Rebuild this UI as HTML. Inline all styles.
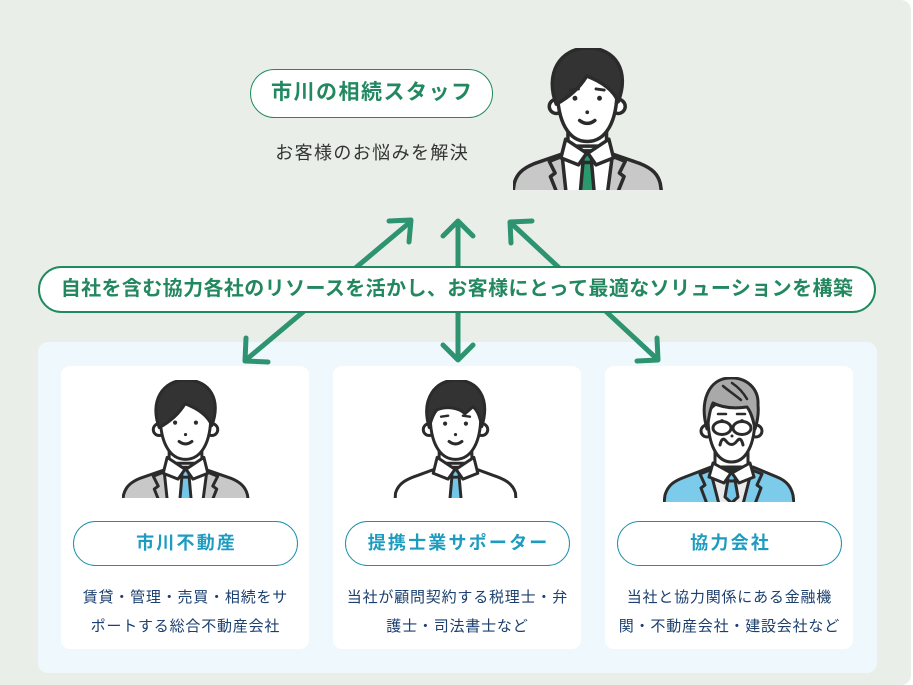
<!DOCTYPE html>
<html lang="ja">
<head>
<meta charset="utf-8">
<style>
  html, body { margin:0; padding:0; }
  body { width:913px; height:685px; position:relative; overflow:hidden; background:#ffffff;
         font-family:"Liberation Sans","Noto Sans CJK JP",sans-serif; }
  .abs { position:absolute; }
  .bg { left:0; top:0; width:911px; height:685px; background:#e9efe8; border-radius:0 10px 10px 0; }
  .wrap { left:38px; top:342px; width:839px; height:331px; background:#eff8fd; border-radius:10px; }
  .card { top:366px; width:248px; height:283px; background:#ffffff; border-radius:9px; }
  .pill { box-sizing:border-box; background:#fff; text-align:center; font-weight:700; white-space:nowrap; }
  .toppill { left:250px; top:69px; width:243px; height:49px; border:1.5px solid #1f8a5e; border-radius:25px;
             font-size:21px; line-height:46px; letter-spacing:1.5px; padding-left:1.5px; color:#22885f; }
  .sub { left:250px; top:140px; width:243px; line-height:26px; font-size:18px; letter-spacing:1.4px; padding-left:1.4px;
         color:#333333; text-align:center; white-space:nowrap; box-sizing:border-box; }
  .banner { left:38px; top:266px; width:838px; height:47px; border:2px solid #1f8a5e; border-radius:24px;
            font-size:20px; line-height:43px; letter-spacing:0.4px; color:#23875f; }
  .cpill { top:521px; width:225px; height:45px; border:1.5px solid #1e8fad; border-radius:23px;
           font-size:18px; line-height:42px; letter-spacing:2.2px; padding-left:2.2px; color:#1d9cc0; }
  .desc { top:583px; width:248px; text-align:center; font-size:15px; line-height:29px; letter-spacing:0.8px;
          padding-left:0.8px; box-sizing:border-box; color:#1b3f6e; white-space:nowrap; }
</style>
</head>
<body>
<div class="abs bg"></div>
<div class="abs wrap"></div>
<div class="abs card" style="left:61px;"></div>
<div class="abs card" style="left:333px;"></div>
<div class="abs card" style="left:605px;"></div>

<!-- arrows -->
<svg class="abs" style="left:0;top:0" width="913" height="685" viewBox="0 0 913 685">
  <g stroke="#2e9370" stroke-width="5" fill="none" stroke-linecap="round" stroke-linejoin="round">
    <line x1="247" y1="359" x2="409" y2="223"/>
    <polyline points="389,221 411,220 409,242"/>
    <polyline points="246,338 245,361 268,362"/>
    <line x1="458" y1="223" x2="458" y2="358"/>
    <polyline points="443,236 458,221 473,236"/>
    <polyline points="443,345 458,360 473,345"/>
    <line x1="512" y1="224" x2="656" y2="358"/>
    <polyline points="532,221 510,222 511,243"/>
    <polyline points="637,361 658,360 657,338"/>
  </g>
</svg>

<div class="abs pill toppill">市川の相続スタッフ</div>
<div class="abs sub">お客様のお悩みを解決</div>
<div class="abs pill banner">自社を含む協力各社のリソースを活かし、お客様にとって最適なソリューションを構築</div>

<!-- top person -->
<svg class="abs" style="left:513px;top:48px" width="152" height="142" viewBox="0 0 130 121.5">
  <g stroke="#2b2b2b" stroke-width="3" stroke-linejoin="round" stroke-linecap="round">
    <path d="M-1 130 L1 116 C3 108 8 103 18 99 L41 91 L86 91 L109 99 C119 103 124 108 126 116 L128 130 Z" fill="#c8c8c8"/>
    <path d="M42 92 L46 130 L80 130 L85 92 Z" fill="#ffffff"/>
    <path d="M60 96 L57 130 L70 130 L67 96 Z" fill="#2a9a6e"/>
    <path d="M41 93 L31 97 L36 107 L32 110 L40 130" fill="none"/>
    <path d="M86 93 L96 97 L91 107 L95 110 L87 130" fill="none"/>
    <path d="M47 62 L47 84 L80 84 L80 62 Z" fill="#ffffff"/>
    <path d="M59 88 L68 88 L67 98 L60 98 Z" fill="#2a9a6e"/>
    <path d="M45 78 L63 90 L56 100 L41 94 Z" fill="#ffffff"/>
    <path d="M82 78 L64 90 L71 100 L86 94 Z" fill="#ffffff"/>
    <circle cx="37" cy="50" r="6" fill="#ffffff"/>
    <circle cx="90" cy="50" r="6" fill="#ffffff"/>
    <path d="M38 36 C38 62 47 80 63.5 80 C80 80 89 62 89 36 C89 16 38 16 38 36 Z" fill="#ffffff"/>
    <path d="M37 48 C27 22 40 0 64 0 C88 0 100 20 90 46 C86 36 76 29 63 24 C57 34 48 42 37 48 Z" fill="#333333"/>
    <path d="M49 36 L56 35" fill="none" stroke-width="2.5"/>
    <path d="M71 35 L78 36" fill="none" stroke-width="2.5"/>
    <path d="M57 62 Q63.5 67 70 62" fill="none"/>
  </g>
  <g fill="#2b2b2b">
    <circle cx="53" cy="43" r="2.1"/><circle cx="74" cy="43" r="2.1"/><circle cx="63.5" cy="55" r="1.6"/>
  </g>
</svg>

<!-- card 1 person -->
<svg class="abs" style="left:122px;top:380px" width="130" height="118" viewBox="0 0 130 119">
  <g stroke="#2b2b2b" stroke-width="3" stroke-linejoin="round" stroke-linecap="round">
    <path d="M-1 130 L1 116 C3 108 8 103 18 99 L41 91 L86 91 L109 99 C119 103 124 108 126 116 L128 130 Z" fill="#c8c8c8"/>
    <path d="M42 92 L46 130 L80 130 L85 92 Z" fill="#ffffff"/>
    <path d="M60 96 L57 130 L70 130 L67 96 Z" fill="#74c6e8"/>
    <path d="M41 93 L31 97 L36 107 L32 110 L40 130" fill="none"/>
    <path d="M86 93 L96 97 L91 107 L95 110 L87 130" fill="none"/>
    <path d="M47 62 L47 84 L80 84 L80 62 Z" fill="#ffffff"/>
    <path d="M59 88 L68 88 L67 98 L60 98 Z" fill="#74c6e8"/>
    <path d="M45 78 L63 90 L56 100 L41 94 Z" fill="#ffffff"/>
    <path d="M82 78 L64 90 L71 100 L86 94 Z" fill="#ffffff"/>
    <circle cx="37" cy="50" r="6" fill="#ffffff"/>
    <circle cx="90" cy="50" r="6" fill="#ffffff"/>
    <path d="M38 36 C38 62 47 80 63.5 80 C80 80 89 62 89 36 C89 16 38 16 38 36 Z" fill="#ffffff"/>
    <path d="M37 48 C27 22 40 0 64 0 C88 0 100 20 90 46 C86 36 76 29 63 24 C57 34 48 42 37 48 Z" fill="#333333"/>
    <path d="M57 62 Q63.5 67 70 62" fill="none"/>
  </g>
  <g fill="#2b2b2b">
    <circle cx="53" cy="43" r="2.1"/><circle cx="74" cy="43" r="2.1"/><circle cx="63.5" cy="55" r="1.6"/>
  </g>
</svg>

<!-- card 2 person -->
<svg class="abs" style="left:392px;top:380px" width="130" height="118" viewBox="0 0 130 119">
  <g stroke="#2b2b2b" stroke-width="3" stroke-linejoin="round" stroke-linecap="round">
    <path d="M2 130 L3 114 C6 104 14 100 26 96 L45 89 L82 89 L101 96 C113 100 121 104 124 114 L125 130 Z" fill="#ffffff"/>
    <path d="M60 96 L57 130 L70 130 L67 96 Z" fill="#74c6e8"/>
    <path d="M47 62 L47 84 L80 84 L80 62 Z" fill="#ffffff"/>
    <path d="M59 88 L68 88 L67 98 L60 98 Z" fill="#74c6e8"/>
    <path d="M45 78 L63 90 L56 100 L41 94 Z" fill="#ffffff"/>
    <path d="M82 78 L64 90 L71 100 L86 94 Z" fill="#ffffff"/>
    <circle cx="37" cy="50" r="6" fill="#ffffff"/>
    <circle cx="90" cy="50" r="6" fill="#ffffff"/>
    <path d="M38 36 C38 62 47 80 63.5 80 C80 80 89 62 89 36 C89 16 38 16 38 36 Z" fill="#ffffff"/>
    <path d="M37 48 C28 18 44 0 64 0 C86 0 99 18 90 47 C88 37 86 31 81 27 L73 34 C67 28 55 26 45 30 C41 34 39 40 37 48 Z" fill="#333333"/>
    <path d="M49 37 L56 36" fill="none" stroke-width="2.5"/>
    <path d="M71 36 L78 37" fill="none" stroke-width="2.5"/>
    <path d="M57 62 Q63.5 67 70 62" fill="none"/>
  </g>
  <g fill="#2b2b2b">
    <circle cx="53" cy="44" r="2.1"/><circle cx="74" cy="44" r="2.1"/><circle cx="63.5" cy="55" r="1.6"/>
  </g>
</svg>

<!-- card 3 person (older man) -->
<svg class="abs" style="left:663px;top:377px" width="132" height="125" viewBox="0 0 132 125">
  <g stroke="#2b2b2b" stroke-width="3" stroke-linejoin="round" stroke-linecap="round">
    <path d="M0 135 L2 118 C5 108 11 104 22 100 L48 90 L90 90 L114 100 C124 104 128 110 130 118 L132 135 Z" fill="#7ccbea"/>
    <path d="M47 92 L58 135 L78 135 L89 92 Z" fill="#ebebeb"/>
    <path d="M47 93 L37 97 L42 108 L38 111 L47 135" fill="none"/>
    <path d="M89 93 L99 97 L94 108 L98 111 L89 135" fill="none"/>
    <path d="M52 70 L52 90 L85 90 L85 70 Z" fill="#ffffff"/>
    <path d="M65 103 L62 120 L68.5 126 L75 120 L72 103 Z" fill="#74c6e8"/>
    <path d="M64 94 L73 94 L72 104 L65 104 Z" fill="#74c6e8"/>
    <path d="M50 86 L68 96 L61 106 L46 100 Z" fill="#ffffff"/>
    <path d="M87 86 L69 96 L76 106 L91 100 Z" fill="#ffffff"/>
    <circle cx="44" cy="54" r="6" fill="#ffffff"/>
    <circle cx="93" cy="54" r="6" fill="#ffffff"/>
    <path d="M45 40 C45 68 54 85 68.5 85 C83 85 92 68 92 40 C92 18 45 18 45 40 Z" fill="#ffffff"/>
    <path d="M44 52 C36 24 46 2 66 1 C84 0 96 12 95 28 C96 38 94 46 92 52 C90 42 88 35 84 30 C70 32 58 30 50 26 C47 32 46 40 44 52 Z" fill="#a9a9a9"/>
    <path d="M60 9 C66 14 72 18 78 23" fill="none" stroke-width="2.5"/>
    <path d="M69 6 C75 10 80 15 84 22" fill="none" stroke-width="2.5"/>
    <path d="M55 37 L63 37" fill="none" stroke-width="2.5"/>
    <path d="M74 37 L82 37" fill="none" stroke-width="2.5"/>
    <ellipse cx="59" cy="51" rx="9" ry="6.5" fill="none"/>
    <ellipse cx="79" cy="51" rx="9" ry="6.5" fill="none"/>
    <path d="M57 68 Q59 59 63 64 Q68.5 71 74 64 Q78 59 80 68" fill="none"/>
  </g>
  <g fill="#2b2b2b">
    <circle cx="59" cy="44" r="1.9"/><circle cx="79" cy="44" r="1.9"/><circle cx="69" cy="59" r="1.5"/>
  </g>
</svg>

<div class="abs pill cpill" style="left:73px;">市川不動産</div>
<div class="abs pill cpill" style="left:345px;">提携士業サポーター</div>
<div class="abs pill cpill" style="left:617px;">協力会社</div>

<div class="abs desc" style="left:61px;">賃貸・管理・売買・相続をサ<br>ポートする総合不動産会社</div>
<div class="abs desc" style="left:333px;">当社が顧問契約する税理士・弁<br>護士・司法書士など</div>
<div class="abs desc" style="left:605px;">当社と協力関係にある金融機<br>関・不動産会社・建設会社など</div>
</body>
</html>
